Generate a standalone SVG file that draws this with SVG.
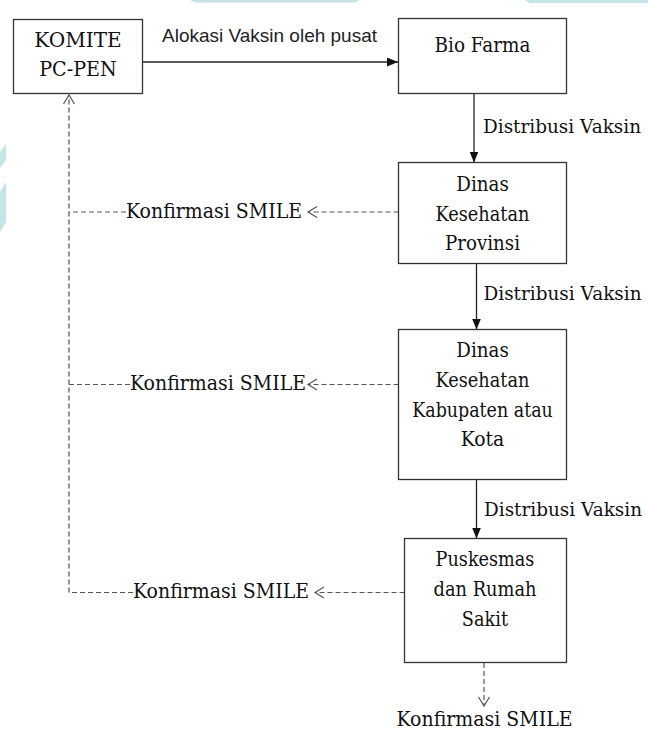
<svg xmlns="http://www.w3.org/2000/svg" width="648" height="731" viewBox="0 0 648 731">
<style>
.box{fill:#fff;stroke:#333;stroke-width:1.3}
.t{font-family:'DejaVu Serif','Liberation Serif',serif;font-size:20.5px;fill:#111}
.d{font-size:19px}
.c{text-anchor:middle}
.s{font-family:'Liberation Sans',Arial,sans-serif;font-size:19px;fill:#222}
.solid{fill:none;stroke:#222;stroke-width:1.3}
.dash{fill:none;stroke:#555;stroke-width:1.2;stroke-dasharray:5 3}
.deco{fill:#7cc3cb;opacity:0.45}
</style>
<defs>
<marker id="fill" markerUnits="userSpaceOnUse" markerWidth="12" markerHeight="10" refX="11" refY="4.5" orient="auto">
<path d="M0,0 L11,4.5 L0,9 Z" fill="#111"/>
</marker>
<marker id="open" markerUnits="userSpaceOnUse" markerWidth="12" markerHeight="14" refX="10" refY="6" orient="auto">
<path d="M1,0.5 L10,6 L1,11.5" fill="none" stroke="#555" stroke-width="1.2"/>
</marker>
</defs>
<rect width="648" height="731" fill="#fff"/>
<g id="decoration">
<polygon class="deco" points="190,0 360,0 355,2.5 195,2.5"/>
<polygon class="deco" points="525,0 648,0 648,3 530,3"/>
<polygon class="deco" points="0,152 6,144 6,160 0,168"/>
<polygon class="deco" points="0,192 6,182 6,222 0,232"/>
</g>
<g id="connectors">
<line class="solid" x1="143" y1="62" x2="398" y2="62" marker-end="url(#fill)"/>
<line class="solid" x1="474" y1="93.5" x2="474" y2="162.5" marker-end="url(#fill)"/>
<line class="solid" x1="476.5" y1="263.5" x2="476.5" y2="329.5" marker-end="url(#fill)"/>
<line class="solid" x1="476.5" y1="479.5" x2="476.5" y2="538.5" marker-end="url(#fill)"/>
<line class="dash" x1="398.5" y1="212" x2="308" y2="212" marker-end="url(#open)"/>
<line class="dash" x1="126" y1="212" x2="69" y2="212"/>
<line class="dash" x1="398.5" y1="384.5" x2="308" y2="384.5" marker-end="url(#open)"/>
<line class="dash" x1="130" y1="384.5" x2="69" y2="384.5"/>
<line class="dash" x1="404.5" y1="592.5" x2="315" y2="592.5" marker-end="url(#open)"/>
<line class="dash" x1="133" y1="592.5" x2="69" y2="592.5"/>
<line class="dash" x1="69" y1="592.5" x2="69" y2="95" marker-end="url(#open)"/>
<line class="dash" x1="484" y1="663" x2="484" y2="706" marker-end="url(#open)"/>
<text class="s" x="162" y="42" textLength="215" lengthAdjust="spacingAndGlyphs">Alokasi Vaksin oleh pusat</text>
<text class="t d" x="483" y="133" textLength="158" lengthAdjust="spacingAndGlyphs">Distribusi Vaksin</text>
<text class="t d" x="483.5" y="300" textLength="158" lengthAdjust="spacingAndGlyphs">Distribusi Vaksin</text>
<text class="t d" x="484" y="516" textLength="158" lengthAdjust="spacingAndGlyphs">Distribusi Vaksin</text>
<text class="t" x="126" y="218" textLength="176" lengthAdjust="spacingAndGlyphs">Konfirmasi SMILE</text>
<text class="t" x="130" y="390" textLength="176" lengthAdjust="spacingAndGlyphs">Konfirmasi SMILE</text>
<text class="t" x="133" y="598" textLength="176" lengthAdjust="spacingAndGlyphs">Konfirmasi SMILE</text>
<text class="t c" x="484.5" y="726" textLength="176" lengthAdjust="spacingAndGlyphs">Konfirmasi SMILE</text>
</g>
<g id="komite">
<rect class="box" x="13.5" y="19.5" width="129" height="74"/>
<text class="t c" x="78" y="47" textLength="87.5" lengthAdjust="spacingAndGlyphs">KOMITE</text>
<text class="t c" x="78" y="76" textLength="77.5" lengthAdjust="spacingAndGlyphs">PC-PEN</text>
</g>
<g id="biofarma">
<rect class="box" x="398.5" y="18.5" width="168" height="75"/>
<text class="t c" x="482.5" y="52" textLength="96" lengthAdjust="spacingAndGlyphs">Bio Farma</text>
</g>
<g id="dinkes-provinsi">
<rect class="box" x="398.5" y="162.5" width="168" height="101"/>
<text class="t c" x="482.5" y="191" textLength="52.5" lengthAdjust="spacingAndGlyphs">Dinas</text>
<text class="t c" x="482.5" y="220.5" textLength="94" lengthAdjust="spacingAndGlyphs">Kesehatan</text>
<text class="t c" x="482.5" y="250" textLength="75" lengthAdjust="spacingAndGlyphs">Provinsi</text>
</g>
<g id="dinkes-kabkota">
<rect class="box" x="398.5" y="329.5" width="168" height="150"/>
<text class="t c" x="482.5" y="357" textLength="52.5" lengthAdjust="spacingAndGlyphs">Dinas</text>
<text class="t c" x="482.5" y="387" textLength="94" lengthAdjust="spacingAndGlyphs">Kesehatan</text>
<text class="t c" x="482.5" y="417" textLength="140.6" lengthAdjust="spacingAndGlyphs">Kabupaten atau</text>
<text class="t c" x="482.5" y="446" textLength="43.7" lengthAdjust="spacingAndGlyphs">Kota</text>
</g>
<g id="puskesmas-rs">
<rect class="box" x="404.5" y="538.5" width="162" height="124"/>
<text class="t c" x="485" y="566" textLength="98.8" lengthAdjust="spacingAndGlyphs">Puskesmas</text>
<text class="t c" x="485" y="596" textLength="103" lengthAdjust="spacingAndGlyphs">dan Rumah</text>
<text class="t c" x="485" y="626" textLength="46.3" lengthAdjust="spacingAndGlyphs">Sakit</text>
</g>
</svg>
